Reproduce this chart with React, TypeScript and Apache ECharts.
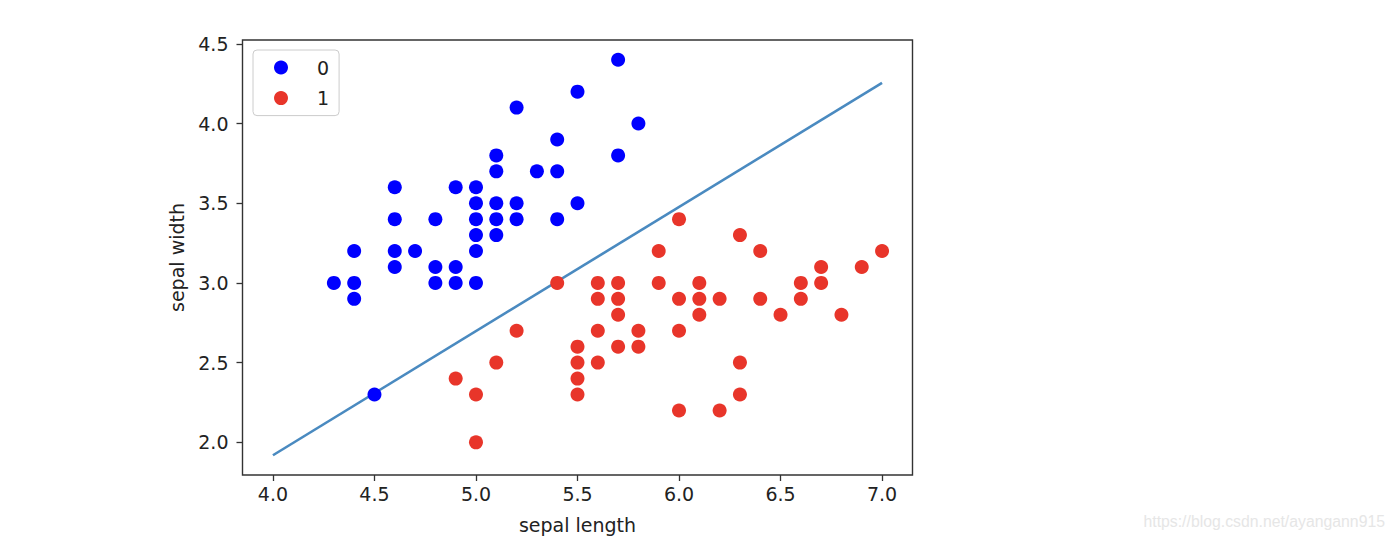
import React, { useEffect, useRef } from "react";
import * as echarts from "echarts";

// class 0 (blue) points: [sepal length, sepal width]
const class0Points: number[][] = [
  [4.3, 3.0],
  [4.4, 3.2], [4.4, 3.0], [4.4, 2.9],
  [4.5, 2.3],
  [4.6, 3.6], [4.6, 3.4], [4.6, 3.2], [4.6, 3.1],
  [4.7, 3.2],
  [4.8, 3.4], [4.8, 3.1], [4.8, 3.0],
  [4.9, 3.6], [4.9, 3.1], [4.9, 3.0],
  [5.0, 3.6], [5.0, 3.5], [5.0, 3.4], [5.0, 3.3], [5.0, 3.2], [5.0, 3.0],
  [5.1, 3.8], [5.1, 3.7], [5.1, 3.5], [5.1, 3.4], [5.1, 3.3],
  [5.2, 4.1], [5.2, 3.5], [5.2, 3.4],
  [5.3, 3.7],
  [5.4, 3.9], [5.4, 3.7], [5.4, 3.4],
  [5.5, 4.2], [5.5, 3.5],
  [5.7, 4.4], [5.7, 3.8],
  [5.8, 4.0],
];

// class 1 (red) points
const class1Points: number[][] = [
  [4.9, 2.4],
  [5.0, 2.3], [5.0, 2.0],
  [5.1, 2.5],
  [5.2, 2.7],
  [5.4, 3.0],
  [5.5, 2.6], [5.5, 2.5], [5.5, 2.4], [5.5, 2.3],
  [5.6, 3.0], [5.6, 2.9], [5.6, 2.7], [5.6, 2.5],
  [5.7, 3.0], [5.7, 2.9], [5.7, 2.8], [5.7, 2.6],
  [5.8, 2.7], [5.8, 2.6],
  [5.9, 3.2], [5.9, 3.0],
  [6.0, 3.4], [6.0, 2.9], [6.0, 2.7], [6.0, 2.2],
  [6.1, 3.0], [6.1, 2.9], [6.1, 2.8],
  [6.2, 2.9], [6.2, 2.2],
  [6.3, 3.3], [6.3, 2.5], [6.3, 2.3],
  [6.4, 3.2], [6.4, 2.9],
  [6.5, 2.8],
  [6.6, 3.0], [6.6, 2.9],
  [6.7, 3.1], [6.7, 3.0],
  [6.8, 2.8],
  [6.9, 3.1],
  [7.0, 3.2],
];

// decision boundary line
const lineX: number[] = [4.0, 7.0];
const lineY: number[] = [1.919, 4.255];

const xTicks: number[] = [4.0, 4.5, 5.0, 5.5, 6.0, 6.5, 7.0];
const yTicks: number[] = [2.0, 2.5, 3.0, 3.5, 4.0, 4.5];

const seriesNames: string[] = ["0", "1"];

export default function App() {
  const ref = useRef<HTMLDivElement>(null);

  useEffect(() => {
    if (!ref.current) return;
    const chart = echarts.init(ref.current, undefined, { renderer: "svg" });
    const font = "DejaVu Sans";
    const textColor = "#222";
    const fs = 19;

    chart.setOption({
      animation: false,
      backgroundColor: "#ffffff",
      textStyle: { fontFamily: font },
      grid: {
        left: 242.5,
        top: 40,
        width: 670,
        height: 435,
        show: true,
        borderColor: "#333",
        borderWidth: 1.4,
        backgroundColor: "transparent",
      },
      legend: {
        data: seriesNames,
        orient: "vertical",
        left: 253,
        top: 50,
        icon: "circle",
        itemWidth: 14,
        itemHeight: 14,
        itemGap: 11.6,
        padding: [8, 10, 8, 21],
        borderColor: "#cccccc",
        borderWidth: 1,
        borderRadius: 4,
        backgroundColor: "#ffffff",
        textStyle: {
          fontFamily: font,
          fontSize: fs,
          color: textColor,
          lineHeight: 19,
          padding: [0, 0, 0, 24],
        },
      },
      xAxis: {
        type: "value",
        min: 3.85,
        max: 7.15,
        name: "sepal length",
        nameLocation: "middle",
        nameGap: 40,
        nameTextStyle: { fontFamily: font, fontSize: fs, color: textColor },
        axisLine: { show: false },
        splitLine: { show: false },
        axisTick: {
          show: true,
          inside: false,
          length: 6,
          customValues: xTicks,
          lineStyle: { color: "#333", width: 1.3 },
        },
        axisLabel: {
          customValues: xTicks,
          formatter: (v: number) => v.toFixed(1),
          fontFamily: font,
          fontSize: fs,
          color: textColor,
          margin: 9,
        },
      },
      yAxis: {
        type: "value",
        min: 1.795,
        max: 4.524,
        name: "sepal width",
        nameLocation: "middle",
        nameGap: 56,
        nameRotate: 90,
        nameTextStyle: { fontFamily: font, fontSize: fs, color: textColor },
        axisLine: { show: false },
        splitLine: { show: false },
        axisTick: {
          show: true,
          inside: false,
          length: 6,
          customValues: yTicks,
          lineStyle: { color: "#333", width: 1.3 },
        },
        axisLabel: {
          customValues: yTicks,
          formatter: (v: number) => v.toFixed(1),
          fontFamily: font,
          fontSize: fs,
          color: textColor,
          margin: 14,
        },
      },
      graphic: [
        {
          type: "text",
          right: 9,
          top: 513,
          style: {
            text: "https://blog.csdn.net/ayangann915",
            fontFamily: "Liberation Sans",
            fontSize: 15.8,
            fill: "#e6e6e6",
          },
        },
      ],
      series: [
        {
          name: "boundary",
          type: "line",
          data: lineX.map((x, i) => [x, lineY[i]]),
          showSymbol: false,
          symbol: "none",
          lineStyle: { color: "#4a8ac0", width: 2.6 },
          z: 1,
        },
        {
          name: seriesNames[0],
          type: "scatter",
          data: class0Points,
          symbol: "circle",
          symbolSize: 14,
          itemStyle: { color: "#0000ff", opacity: 1 },
          z: 2,
        },
        {
          name: seriesNames[1],
          type: "scatter",
          data: class1Points,
          symbol: "circle",
          symbolSize: 14,
          itemStyle: { color: "#e8352a", opacity: 1 },
          z: 2,
        },
      ],
    });

    return () => {
      chart.dispose();
    };
  }, []);

  return (
    <div
      ref={ref}
      style={{ position: "absolute", left: 0, top: 0, width: 1394, height: 542, background: "#fff" }}
    />
  );
}
